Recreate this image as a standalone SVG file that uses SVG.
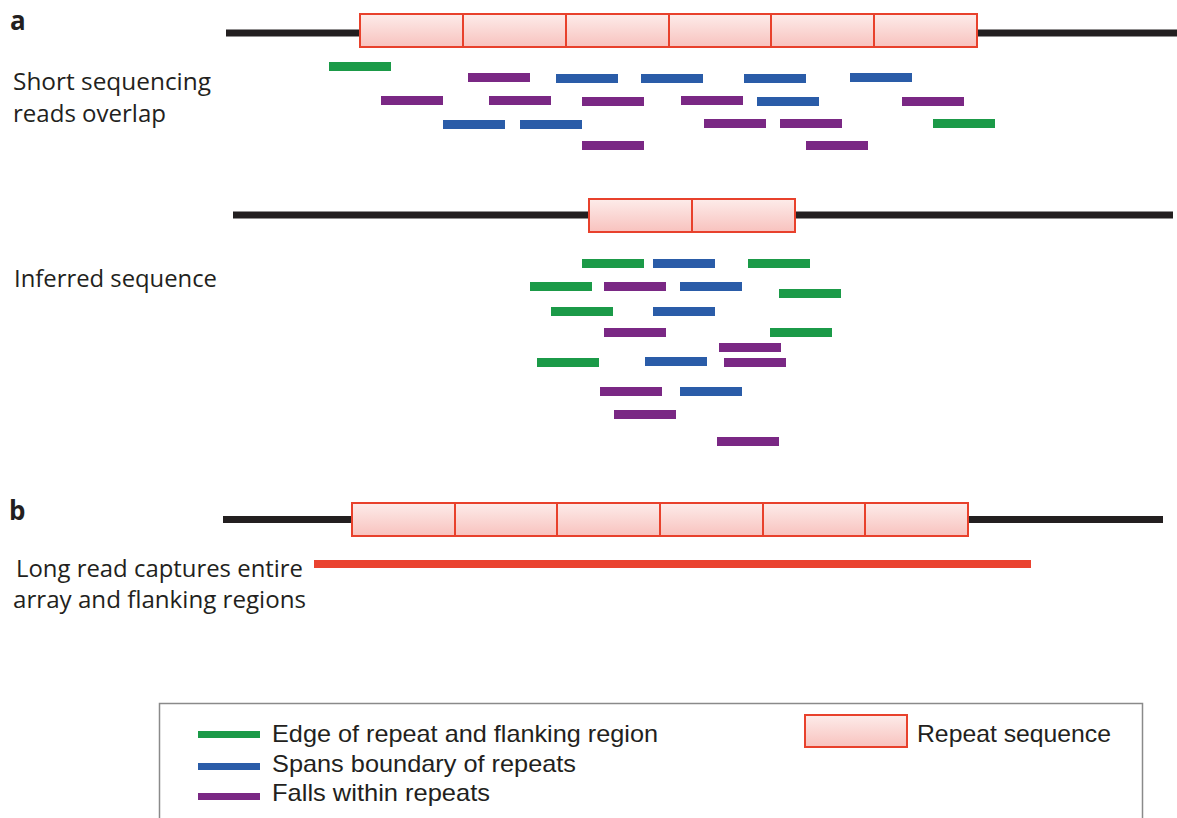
<svg xmlns="http://www.w3.org/2000/svg" width="1177" height="818" viewBox="0 0 1177 818">
<defs>
<linearGradient id="rg" x1="0" y1="0" x2="0" y2="1">
<stop offset="0" stop-color="#fdecea"/>
<stop offset="1" stop-color="#f8c2be"/>
</linearGradient>
</defs>
<style>
.lbl{font-family:"Open Sans","Noto Sans","Liberation Sans",sans-serif;font-size:24px;fill:#231f20}
.let{font-family:"Open Sans","Noto Sans","Liberation Sans",sans-serif;font-size:26px;font-weight:700;fill:#231f20}
.leg{font-family:"Liberation Sans",Arial,sans-serif;font-size:24px;fill:#231f20}
.dna{fill:#231f20}
.rep{fill:url(#rg);stroke:#e8412c;stroke-width:2}
.div{stroke:#e8412c;stroke-width:2}
.g{fill:#1b9a48}
.b{fill:#2a5ca8}
.p{fill:#7a2884}
.long{fill:#ea4330}
</style>
<rect width="1177" height="818" fill="#fff"/>

<g id="panel-a">
<text class="let" x="10" y="30">a</text>
<text class="lbl" x="13" y="90" textLength="198" lengthAdjust="spacingAndGlyphs">Short sequencing</text>
<text class="lbl" x="13" y="122" textLength="153" lengthAdjust="spacingAndGlyphs">reads overlap</text>
<g id="genome-a">
<rect class="dna" x="226" y="29.5" width="951" height="7"/>
<rect class="rep" x="360" y="14" width="617" height="33"/>
<line class="div" x1="463" y1="14" x2="463" y2="47"/>
<line class="div" x1="566" y1="14" x2="566" y2="47"/>
<line class="div" x1="669" y1="14" x2="669" y2="47"/>
<line class="div" x1="771" y1="14" x2="771" y2="47"/>
<line class="div" x1="874" y1="14" x2="874" y2="47"/>
</g>
<g id="reads-a">
<rect class="g" x="329" y="62" width="62" height="9"/>
<rect class="p" x="468" y="73" width="62" height="9"/>
<rect class="b" x="556" y="74" width="62" height="9"/>
<rect class="b" x="641" y="74" width="62" height="9"/>
<rect class="b" x="744" y="74" width="62" height="9"/>
<rect class="b" x="850" y="73" width="62" height="9"/>
<rect class="p" x="381" y="96" width="62" height="9"/>
<rect class="p" x="489" y="96" width="62" height="9"/>
<rect class="p" x="582" y="97" width="62" height="9"/>
<rect class="p" x="681" y="96" width="62" height="9"/>
<rect class="b" x="757" y="97" width="62" height="9"/>
<rect class="p" x="902" y="97" width="62" height="9"/>
<rect class="b" x="443" y="120" width="62" height="9"/>
<rect class="b" x="520" y="120" width="62" height="9"/>
<rect class="p" x="704" y="119" width="62" height="9"/>
<rect class="p" x="780" y="119" width="62" height="9"/>
<rect class="g" x="933" y="119" width="62" height="9"/>
<rect class="p" x="582" y="141" width="62" height="9"/>
<rect class="p" x="806" y="141" width="62" height="9"/>
</g>
</g>

<g id="panel-inferred">
<text class="lbl" x="14" y="287" textLength="203" lengthAdjust="spacingAndGlyphs">Inferred sequence</text>
<g id="genome-inferred">
<rect class="dna" x="233" y="211.5" width="940" height="7"/>
<rect class="rep" x="589" y="199" width="206" height="33"/>
<line class="div" x1="692" y1="199" x2="692" y2="232"/>
</g>
<g id="reads-inferred">
<rect class="g" x="582" y="259" width="62" height="9"/>
<rect class="b" x="653" y="259" width="62" height="9"/>
<rect class="g" x="748" y="259" width="62" height="9"/>
<rect class="g" x="530" y="282" width="62" height="9"/>
<rect class="p" x="604" y="282" width="62" height="9"/>
<rect class="b" x="680" y="282" width="62" height="9"/>
<rect class="g" x="779" y="289" width="62" height="9"/>
<rect class="g" x="551" y="307" width="62" height="9"/>
<rect class="b" x="653" y="307" width="62" height="9"/>
<rect class="p" x="604" y="328" width="62" height="9"/>
<rect class="g" x="770" y="328" width="62" height="9"/>
<rect class="p" x="719" y="343" width="62" height="9"/>
<rect class="g" x="537" y="358" width="62" height="9"/>
<rect class="b" x="645" y="357" width="62" height="9"/>
<rect class="p" x="724" y="358" width="62" height="9"/>
<rect class="p" x="600" y="387" width="62" height="9"/>
<rect class="b" x="680" y="387" width="62" height="9"/>
<rect class="p" x="614" y="410" width="62" height="9"/>
<rect class="p" x="717" y="437" width="62" height="9"/>
</g>
</g>

<g id="panel-b">
<text class="let" x="9" y="520">b</text>
<text class="lbl" x="16" y="577" textLength="287" lengthAdjust="spacingAndGlyphs">Long read captures entire</text>
<text class="lbl" x="13" y="608" textLength="293" lengthAdjust="spacingAndGlyphs">array and flanking regions</text>
<g id="genome-b">
<rect class="dna" x="223" y="516" width="940" height="7"/>
<rect class="rep" x="352" y="503" width="616" height="33"/>
<line class="div" x1="455" y1="503" x2="455" y2="536"/>
<line class="div" x1="557" y1="503" x2="557" y2="536"/>
<line class="div" x1="660" y1="503" x2="660" y2="536"/>
<line class="div" x1="763" y1="503" x2="763" y2="536"/>
<line class="div" x1="865" y1="503" x2="865" y2="536"/>
</g>
<rect id="long-read" class="long" x="314" y="560" width="717" height="8"/>
</g>

<g id="legend">
<rect x="159.5" y="703.5" width="983" height="130" fill="#fff" stroke="#8a8a8a" stroke-width="1.5"/>
<rect class="g" x="198" y="731" width="62" height="7"/>
<text class="leg" x="272" y="742" textLength="386" lengthAdjust="spacingAndGlyphs">Edge of repeat and flanking region</text>
<rect class="b" x="198" y="763" width="62" height="7"/>
<text class="leg" x="272" y="772" textLength="304" lengthAdjust="spacingAndGlyphs">Spans boundary of repeats</text>
<rect class="p" x="198" y="793" width="62" height="7"/>
<text class="leg" x="272" y="801" textLength="218" lengthAdjust="spacingAndGlyphs">Falls within repeats</text>
<rect class="rep" x="805" y="715" width="102" height="32"/>
<text class="leg" x="917" y="742" textLength="194" lengthAdjust="spacingAndGlyphs">Repeat sequence</text>
</g>
</svg>
